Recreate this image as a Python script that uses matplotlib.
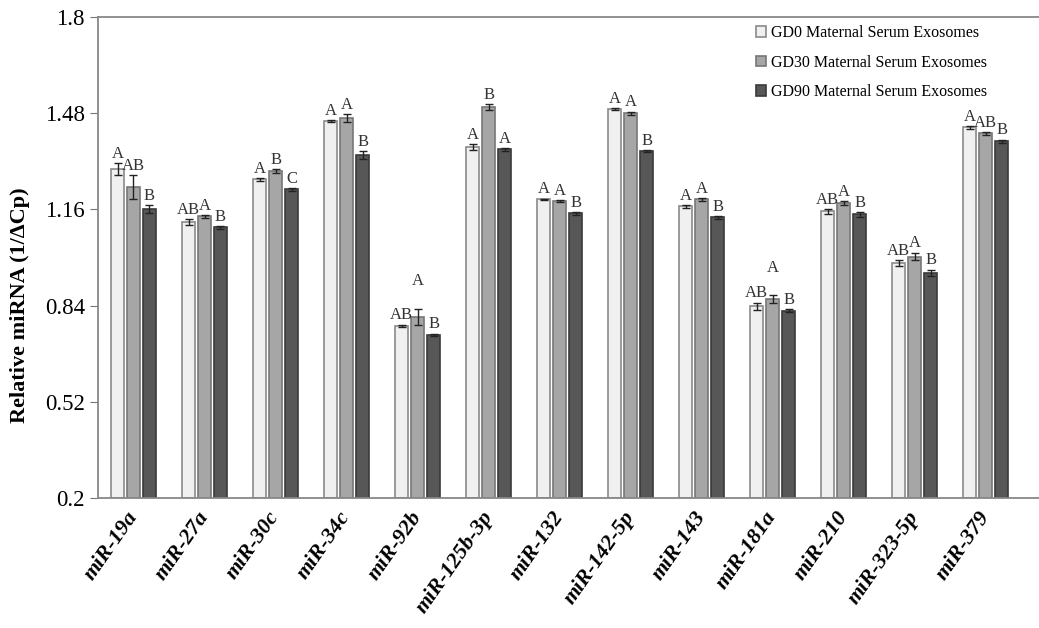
import matplotlib.pyplot as plt
import matplotlib.transforms as mtransforms
import numpy as np

plt.rcParams['font.family'] = ['Liberation Serif', 'DejaVu Serif']

mirnas = ["miR-19a", "miR-27a", "miR-30c", "miR-34c", "miR-92b", "miR-125b-3p",
          "miR-132", "miR-142-5p", "miR-143", "miR-181a", "miR-210", "miR-323-5p",
          "miR-379"]
series = ["GD0 Maternal Serum Exosomes", "GD30 Maternal Serum Exosomes",
          "GD90 Maternal Serum Exosomes"]

gd0 = [1.293, 1.117, 1.260, 1.453, 0.773, 1.367, 1.193, 1.493, 1.170, 0.837, 1.153, 0.980, 1.433]
gd30 = [1.233, 1.137, 1.287, 1.463, 0.803, 1.500, 1.187, 1.480, 1.193, 0.863, 1.180, 1.003, 1.413]
gd90 = [1.160, 1.100, 1.227, 1.340, 0.743, 1.360, 1.147, 1.353, 1.133, 0.823, 1.143, 0.950, 1.387]

err0 = [0.020, 0.010, 0.004, 0.004, 0.004, 0.010, 0.003, 0.003, 0.004, 0.013, 0.007, 0.010, 0.005]
err30 = [0.040, 0.005, 0.006, 0.013, 0.027, 0.010, 0.004, 0.005, 0.005, 0.013, 0.007, 0.013, 0.005]
err90 = [0.013, 0.005, 0.005, 0.013, 0.004, 0.005, 0.005, 0.003, 0.005, 0.005, 0.007, 0.010, 0.005]

let0 = ["A", "AB", "A", "A", "AB", "A", "A", "A", "A", "AB", "AB", "AB", "A"]
let30 = ["AB", "A", "B", "A", "A", "B", "A", "A", "A", "A", "A", "A", "AB"]
let90 = ["B", "B", "C", "B", "B", "A", "B", "B", "B", "B", "B", "B", "B"]
# extra lift for letters that sit higher than the others
lift30 = [0, 0, 0, 0, 0.06, 0, 0, 0, 0, 0.06, 0, 0, 0]

colors = ["#f0f0f0", "#a6a6a6", "#575757"]
edges = ["#8a8a8a", "#777777", "#3a3a3a"]

fig = plt.figure(figsize=(10.39, 6.28), dpi=100)
ax = fig.add_axes([0.0943, 0.207, 0.9057, 0.766])

x = np.arange(len(mirnas))
w = 0.185
offs = [-0.225, 0, 0.225]
vals = [gd0, gd30, gd90]
errs = [err0, err30, err90]
lets = [let0, let30, let90]
lifts = [[0] * len(mirnas), lift30, [0] * len(mirnas)]

for k in range(3):
    ax.bar(x + offs[k], np.array(vals[k]) - 0.2, w, bottom=0.2, color=colors[k],
           edgecolor=edges[k], linewidth=1.2, label=series[k],
           yerr=errs[k], error_kw=dict(ecolor="#222222", elinewidth=1, capsize=3, capthick=1))
    for i in range(len(mirnas)):
        ax.text(x[i] + offs[k], vals[k][i] + errs[k][i] + 0.004 + lifts[k][i], lets[k][i],
                ha="center", va="bottom", fontsize=12, color="#333333")

ax.set_ylim(0.2, 1.8)
ax.set_xlim(-0.5, 12.75)
ax.set_yticks([0.2, 0.52, 0.84, 1.16, 1.48, 1.8])
ax.set_yticklabels(["0.2", "0.52", "0.84", "1.16", "1.48", "1.8"], fontsize=16.5)
ax.set_xticks(x)
ax.set_xticklabels(mirnas, rotation=55, ha="right", va="center", rotation_mode="anchor",
                   fontsize=16, fontweight="bold", fontstyle="italic")
shift = mtransforms.ScaledTranslation(18 / 100, 0, fig.dpi_scale_trans)
for lab in ax.get_xticklabels():
    lab.set_transform(lab.get_transform() + shift)
ax.tick_params(axis="x", length=0, pad=11)
ax.tick_params(axis="y", direction="out", length=6, color="#777777")
ax.set_ylabel("Relative miRNA (1/ΔCp)", fontsize=16, fontweight="bold")
ax.yaxis.set_label_coords(-0.072, 0.40)

ax.spines["right"].set_visible(False)
for s in ["left", "top", "bottom"]:
    ax.spines[s].set_color("#888888")
    ax.spines[s].set_linewidth(1.3)

ax.legend(loc="upper right", bbox_to_anchor=(0.96, 1.013), frameon=False, fontsize=11.5,
          handlelength=0.65, handleheight=0.65, handletextpad=0.3, labelspacing=0.85)

plt.savefig("out.png", dpi=100)
